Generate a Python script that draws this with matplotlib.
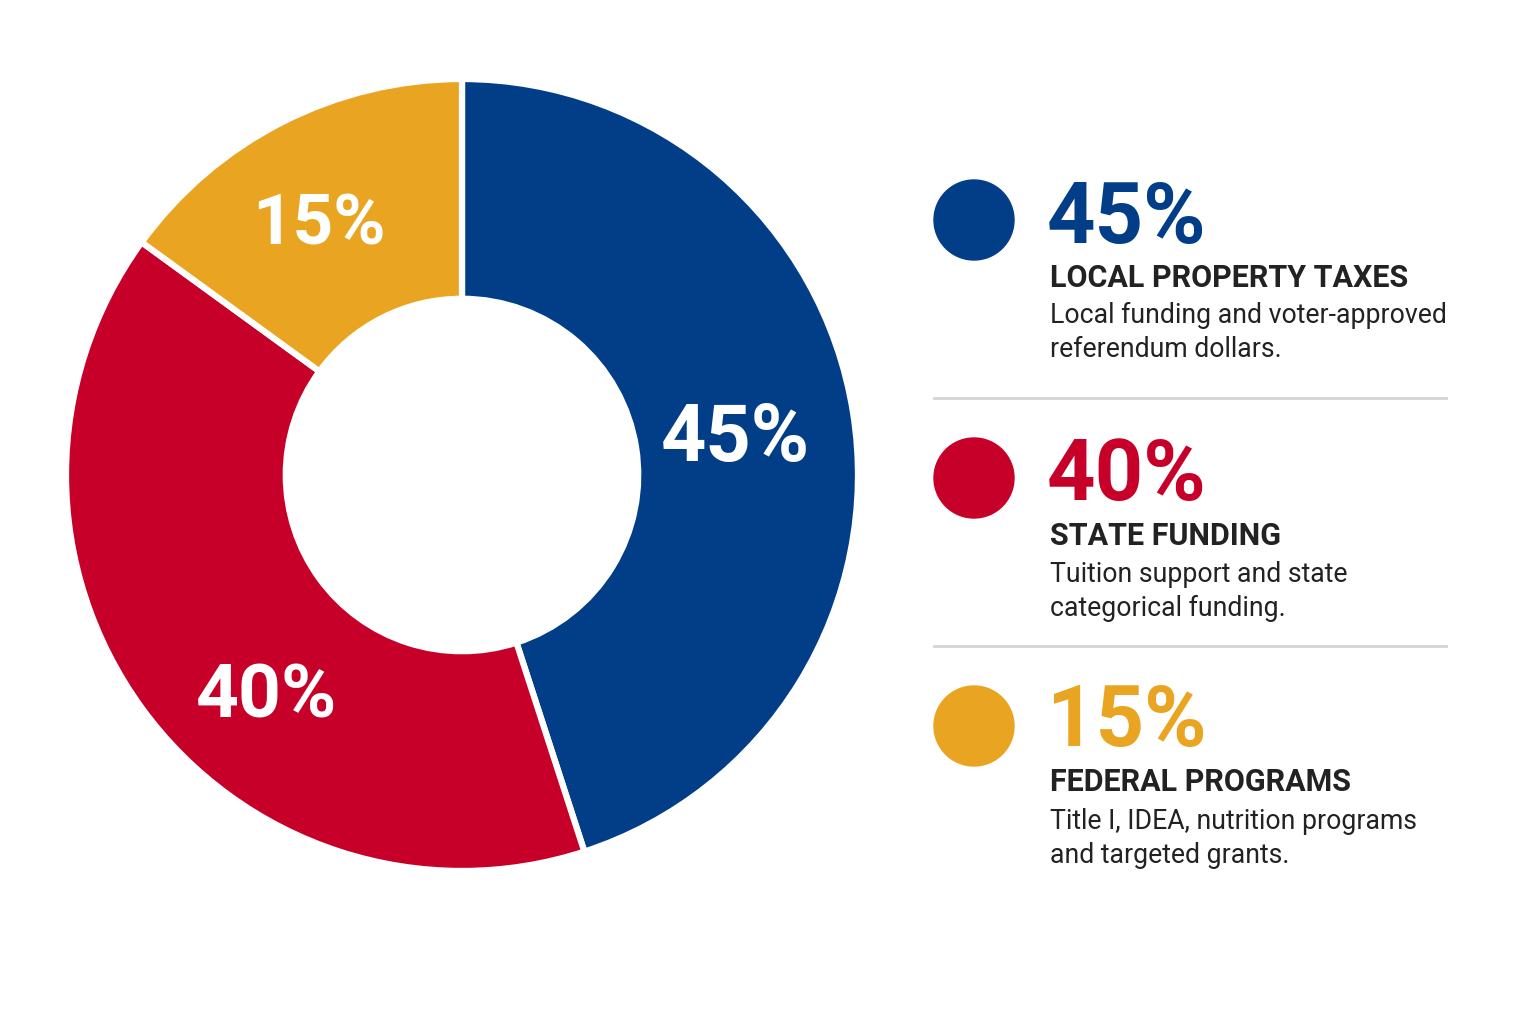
"""Funding sources donut with a side legend (local / state / federal)."""

import matplotlib
matplotlib.use("Agg")
import matplotlib.pyplot as plt
from matplotlib.patches import Circle

W, H = 1536, 1024

shares = [45, 40, 15]
pct_labels = ["45%", "40%", "15%"]
titles = ["LOCAL PROPERTY TAXES", "STATE FUNDING", "FEDERAL PROGRAMS"]
descs = [
    ["Local funding and voter-approved", "referendum dollars."],
    ["Tuition support and state", "categorical funding."],
    ["Title I, IDEA, nutrition programs", "and targeted grants."],
]
colors = ["#023E88", "#C70029", "#E9A521"]

DARK = "#222222"


def px(x, y):
    """image pixel (y down) -> figure fraction"""
    return x / W, 1 - y / H


fig = plt.figure(figsize=(W / 100, H / 100), dpi=100)
fig.patch.set_facecolor("white")

# donut: centre ~ (462, 475), outer radius ~396 px
cx, cy, r = 462, 475, 396
ax = fig.add_axes([(cx - r) / W, (H - cy - r) / H, 2 * r / W, 2 * r / H])
wedges, _ = ax.pie(shares, colors=colors, startangle=90, counterclock=False,
                   radius=1.0, wedgeprops=dict(width=0.555, edgecolor="white", linewidth=4.5))
ax.set_xlim(-1, 1)
ax.set_ylim(-1, 1)
ax.set_aspect("equal")
ax.axis("off")

# labels inside the ring
label_pos = [(735, 440), (267, 697), (319, 225)]
label_size = [57, 54, 51]
for (x, y), t, s in zip(label_pos, pct_labels, label_size):
    fig.text(*px(x, y), t, ha="center", va="center", color="white",
             fontsize=s, fontweight="bold", family="Roboto")

# side legend
circ_y = [220, 478, 726]
pct_base = [243, 500, 746]
title_base = [287, 545, 791]
desc_base = [323, 582, 829]
tx = 1050
for i in range(3):
    fig.patches.append(Circle((974, H - circ_y[i]), 40, transform=None, color=colors[i]))
    fig.text(*px(tx - 3, pct_base[i]), pct_labels[i], ha="left", va="baseline",
             color=colors[i], fontsize=61, fontweight="bold", family="Roboto")
    fig.text(*px(tx, title_base[i]), titles[i], ha="left", va="baseline",
             color=DARK, fontsize=22, fontweight="bold", family="Roboto")
    for j, line in enumerate(descs[i]):
        fig.text(*px(tx, desc_base[i] + j * 34), line, ha="left", va="baseline",
                 color=DARK, fontsize=19.2, family="Roboto")

# thin separators between legend entries
for y in (398, 646):
    fig.add_artist(plt.Line2D([934 / W, 1446 / W], [1 - y / H, 1 - y / H],
                              transform=fig.transFigure, color="#d4d4d4", lw=2))

fig.savefig("out.png", dpi=100)
